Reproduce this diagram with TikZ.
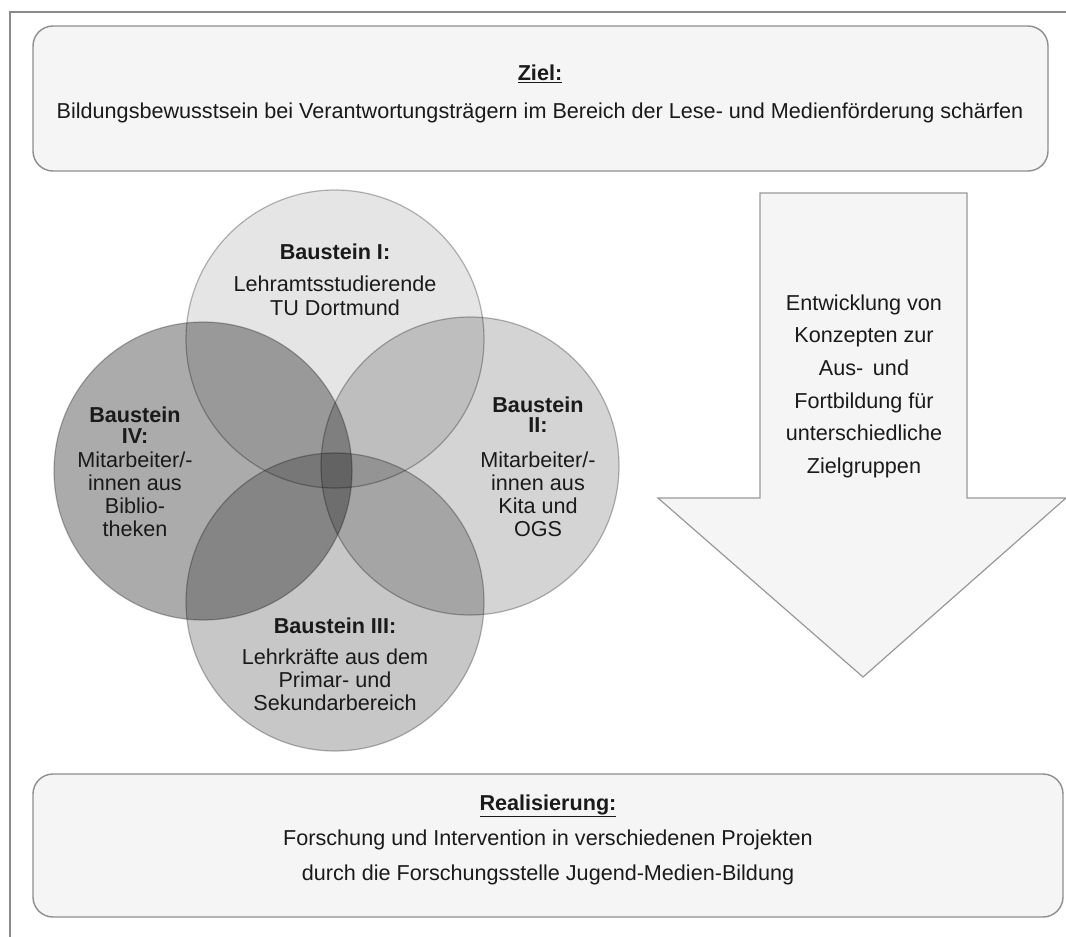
\documentclass[tikz,border=0pt]{standalone}
\usepackage{fontspec}
\setmainfont{Liberation Sans}
\definecolor{panelfill}{HTML}{F5F5F5}
\definecolor{panelline}{HTML}{8E8E8E}
\definecolor{frameline}{HTML}{8A8A8A}
\definecolor{ink}{HTML}{1A1A1A}
\begin{document}
\begin{tikzpicture}[x=1pt,y=-1pt,
  panel/.style={draw=panelline, line width=1.4pt, fill=panelfill, rounded corners=20pt},
  ring/.style={circle, minimum size=298pt, inner sep=0pt, draw=black, draw opacity=0.28,
               line width=1.2pt, fill=black},
  label/.style={anchor=north, align=center, inner sep=0pt, text=ink},
  body/.style={font=\fontsize{21.6}{23}\selectfont}
]
\useasboundingbox (0,0) rectangle (1066,937);
\fill[white] (0,0) rectangle (1066,937);

% page frame
\draw[frameline, line width=1.2pt] (1066,12) -- (10,12) -- (10,937);

% goal panel
\node[panel, minimum width=1015pt, minimum height=145pt] (ziel) at (540.5,98.5) {};
\node[label, font=\fontsize{21.6}{24}\selectfont] (zieltext) at (540,64.5)
  {\underline{\textbf{Ziel:}}\\[14pt]
   Bildungsbewusstsein bei Verantwortungsträgern im Bereich der Lese- und Medienförderung schärfen};

% realisation panel
\node[panel, minimum width=1030pt, minimum height=143pt] (real) at (548,845.5) {};
\node[label, font=\fontsize{21.6}{35}\selectfont] (realtext) at (548,794.5)
  {\underline{\textbf{Realisierung:}}\\
   Forschung und Intervention in verschiedenen Projekten\\
   durch die Forschungsstelle Jugend-Medien-Bildung};

% block arrow
\draw[draw=panelline!90, line width=1.2pt, fill=panelfill]
  (760,193) -- (967,193) -- (967,498) -- (1066,498) -- (863,677)
  -- (658,498) -- (760,498) -- cycle;
\node[label, font=\fontsize{21.6}{32.6}\selectfont] (arrowtext) at (864,294.5)
  {Entwicklung von\\Konzepten zur\\Aus-\,\ und\\Fortbildung für\\unterschiedliche\\Zielgruppen};

% four overlapping building blocks
\node[ring, fill opacity=0.10] (b1) at (335,339) {};
\node[ring, fill opacity=0.17] (b2) at (470,466) {};
\node[ring, fill opacity=0.22] (b3) at (335,602) {};
\node[ring, fill opacity=0.33] (b4) at (203,471) {};

\node[label, font=\fontsize{21.6}{24}\selectfont] (b1text) at (335,243.5)
  {\textbf{Baustein I:}\\[8pt]Lehramtsstudierende\\TU Dortmund};
\node[label, body] (b2text) at (538,396.5)
  {\textbf{Baustein}\\[-3pt]\textbf{II:}\\[12pt]Mitarbeiter/-\\innen aus\\Kita und\\OGS};
\node[label, body] (b3text) at (335,617.5)
  {\textbf{Baustein III:}\\[8pt]Lehrkräfte aus dem\\Primar- und\\Sekundarbereich};
\node[label, body] (b4text) at (135,406.5)
  {\textbf{Baustein}\\[-2pt]\textbf{IV:}\\[1pt]Mitarbeiter/-\\innen aus\\Biblio-\\theken};
\end{tikzpicture}
\end{document}
